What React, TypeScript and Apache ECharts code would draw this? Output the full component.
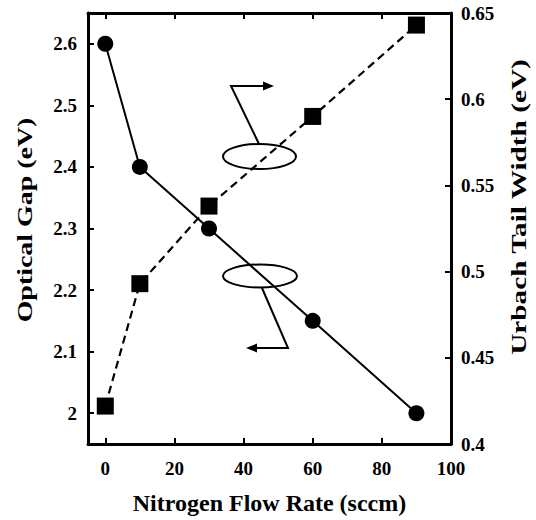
import React, { useEffect, useRef } from "react";
import * as echarts from "echarts";

const flowRates = [0, 10, 30, 60, 90];
const opticalGap = [2.6, 2.4, 2.3, 2.15, 2.0];
const urbachWidth = [0.422, 0.493, 0.538, 0.59, 0.643];
const xTicks = [0, 20, 40, 60, 80, 100];
const leftTicks = [2.0, 2.1, 2.2, 2.3, 2.4, 2.5, 2.6];
const rightTicks = [0.4, 0.45, 0.5, 0.55, 0.6, 0.65];

const FONT = "'Liberation Serif', 'Times New Roman', serif";

export default function App() {
  const ref = useRef<HTMLDivElement>(null);
  useEffect(() => {
    if (!ref.current) return;
    const chart = echarts.init(ref.current, undefined, { renderer: "svg" });
    const axisLine = { show: true, onZero: false, lineStyle: { color: "#000", width: 3 } };
    const tick = (vals: number[]) => ({
      show: true,
      inside: true,
      length: 6,
      lineStyle: { color: "#000", width: 2 },
      customValues: vals,
    });
    const label = (vals: number[], margin: number, fmt?: (v: number) => string) => ({
      show: true,
      color: "#000",
      fontFamily: FONT,
      fontWeight: "bold",
      fontSize: 19,
      margin,
      customValues: vals,
      formatter: fmt,
    });
    const gap = (v: number) => (Math.abs(v - 2) < 1e-9 ? "2" : v.toFixed(1));
    const urb = (v: number) => {
      const s = v.toFixed(2);
      return s.endsWith("0") ? v.toFixed(1) : s;
    };
    const titleStyle = (text: string) => ({
      text,
      fill: "#000",
      fontFamily: FONT,
      fontWeight: "bold",
      fontSize: 22,
      align: "center",
      verticalAlign: "middle",
    });
    const option: any = {
      animation: false,
      backgroundColor: "#fff",
      grid: {
        left: 88,
        right: 85,
        top: 13,
        bottom: 76,
        containLabel: false,
        outerBoundsMode: "none",
      },
      xAxis: [
        {
          type: "value",
          min: -5,
          max: 100,
          position: "bottom",
          axisLine,
          axisTick: tick(xTicks),
          axisLabel: label(xTicks, 15, (v: number) => String(v)),
          splitLine: { show: false },
          name: "Nitrogen Flow Rate (sccm)",
          nameLocation: "middle",
          nameGap: 47,
          nameTextStyle: {
            color: "#000",
            fontFamily: FONT,
            fontWeight: "bold",
            fontSize: 24,
          },
        },
        {
          type: "value",
          min: -5,
          max: 100,
          position: "top",
          axisLine,
          axisTick: tick(xTicks),
          axisLabel: { show: false },
          splitLine: { show: false },
        },
      ],
      yAxis: [
        {
          type: "value",
          min: 1.95,
          max: 2.65,
          position: "left",
          axisLine,
          axisTick: tick(leftTicks),
          axisLabel: label(leftTicks, 11, gap),
          splitLine: { show: false },
        },
        {
          type: "value",
          min: 0.4,
          max: 0.65,
          position: "right",
          axisLine,
          axisTick: tick(rightTicks),
          axisLabel: label(rightTicks, 10, urb),
          splitLine: { show: false },
        },
      ],
      series: [
        {
          name: "Optical Gap",
          type: "line",
          xAxisIndex: 0,
          yAxisIndex: 0,
          data: flowRates.map((x, i) => [x, opticalGap[i]]),
          symbol: "circle",
          symbolSize: 16,
          itemStyle: { color: "#000" },
          lineStyle: { color: "#000", width: 2 },
        },
        {
          name: "Urbach Tail Width",
          type: "line",
          xAxisIndex: 0,
          yAxisIndex: 1,
          data: flowRates.map((x, i) => [x, urbachWidth[i]]),
          symbol: "rect",
          symbolSize: 17,
          itemStyle: { color: "#000" },
          lineStyle: { color: "#000", width: 2.2, type: [8, 5] },
        },
      ],
      graphic: [
        {
          type: "text",
          x: 25,
          y: 220,
          rotation: Math.PI / 2,
          scaleX: 1.27,
          style: titleStyle("Optical Gap (eV)"),
        },
        {
          type: "text",
          x: 519,
          y: 207,
          rotation: Math.PI / 2,
          scaleX: 1.33,
          style: titleStyle("Urbach Tail Width (eV)"),
        },
        {
          type: "ellipse",
          shape: { cx: 259.5, cy: 156.5, rx: 36.5, ry: 12.5 },
          style: { fill: "none", stroke: "#000", lineWidth: 2 },
          z: 100,
        },
        {
          type: "polyline",
          shape: { points: [[259, 144], [231, 86], [266, 86]] },
          style: { fill: "none", stroke: "#000", lineWidth: 2 },
          z: 100,
        },
        {
          type: "polygon",
          shape: { points: [[274, 86], [263, 81.5], [263, 90.5]] },
          style: { fill: "#000" },
          z: 100,
        },
        {
          type: "ellipse",
          shape: { cx: 260, cy: 276, rx: 37, ry: 11.5 },
          style: { fill: "none", stroke: "#000", lineWidth: 2 },
          z: 100,
        },
        {
          type: "polyline",
          shape: { points: [[262, 288], [288, 348], [254, 348]] },
          style: { fill: "none", stroke: "#000", lineWidth: 2 },
          z: 100,
        },
        {
          type: "polygon",
          shape: { points: [[246, 348], [257, 343.5], [257, 352.5]] },
          style: { fill: "#000" },
          z: 100,
        },
      ],
    };
    chart.setOption(option);
    return () => chart.dispose();
  }, []);
  return (
    <div
      ref={ref}
      style={{ position: "absolute", left: 0, top: 0, width: 536, height: 520 }}
    />
  );
}
